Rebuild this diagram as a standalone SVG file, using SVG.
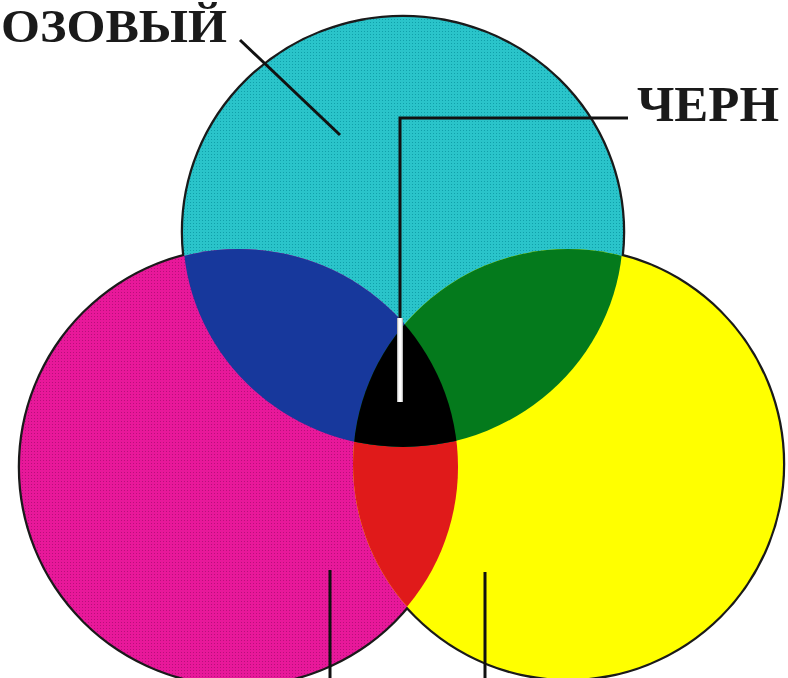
<svg xmlns="http://www.w3.org/2000/svg" width="788" height="678" viewBox="0 0 788 678">
<style>
.lbl{font-family:"Liberation Serif","Times New Roman",serif;font-weight:bold;font-size:51px;fill:#1a1a1a}
.lead{stroke:#111;stroke-width:3;fill:none}
.edge{fill:none;stroke:#1a1a1a;stroke-width:4.5}
</style>
<defs>
<pattern id="patC" width="3" height="3" patternUnits="userSpaceOnUse">
<rect width="3" height="3" fill="#2AC4CA"/>
<rect x="1" y="1" width="1" height="1" fill="#10A0AA"/>
</pattern>
<pattern id="patM" width="3" height="3" patternUnits="userSpaceOnUse">
<rect width="3" height="3" fill="#E8189A"/>
<rect x="1" y="1" width="1" height="1" fill="#B8107A"/>
</pattern>
<ellipse id="cC" cx="403" cy="232" rx="220" ry="215"/>
<ellipse id="cM" cx="239" cy="467" rx="219" ry="218"/>
<ellipse id="cY" cx="568" cy="464" rx="215" ry="215"/>
<clipPath id="clipC"><use href="#cC"/></clipPath>
<clipPath id="clipM"><use href="#cM"/></clipPath>
</defs>
<rect width="788" height="678" fill="#ffffff"/>
<g id="outlines">
<use href="#cC" class="edge"/>
<use href="#cM" class="edge"/>
<use href="#cY" class="edge"/>
</g>
<g id="cyan"><use href="#cC" fill="url(#patC)"/></g>
<g id="magenta"><use href="#cM" fill="url(#patM)"/></g>
<g id="yellow"><use href="#cY" fill="#FFFF00"/></g>
<g id="red" clip-path="url(#clipM)"><use href="#cY" fill="#E01A1A"/></g>
<g id="blue" clip-path="url(#clipC)"><use href="#cM" fill="#17389C"/></g>
<g id="green" clip-path="url(#clipC)"><use href="#cY" fill="#047A1C"/></g>
<g id="black" clip-path="url(#clipC)"><g clip-path="url(#clipM)"><use href="#cY" fill="#000000"/></g></g>
<g id="connectors">
<line class="lead" x1="240" y1="40" x2="340" y2="135"/>
<polyline class="lead" points="628,118 400,118 400,318"/>
<line x1="400" y1="318" x2="400" y2="402" stroke="#bbbbbb" stroke-width="6"/>
<line x1="400" y1="318" x2="400" y2="402" stroke="#ffffff" stroke-width="3.5"/>
<line class="lead" x1="330" y1="570" x2="330" y2="678"/>
<line class="lead" x1="485" y1="572" x2="485" y2="678"/>
</g>
<g id="labels">
<text class="lbl" x="1" y="42" font-size="47" textLength="226" lengthAdjust="spacingAndGlyphs" style="font-size:47px">ОЗОВЫЙ</text>
<text class="lbl" x="637" y="121" textLength="142" lengthAdjust="spacingAndGlyphs">ЧЕРН</text>
</g>
</svg>
